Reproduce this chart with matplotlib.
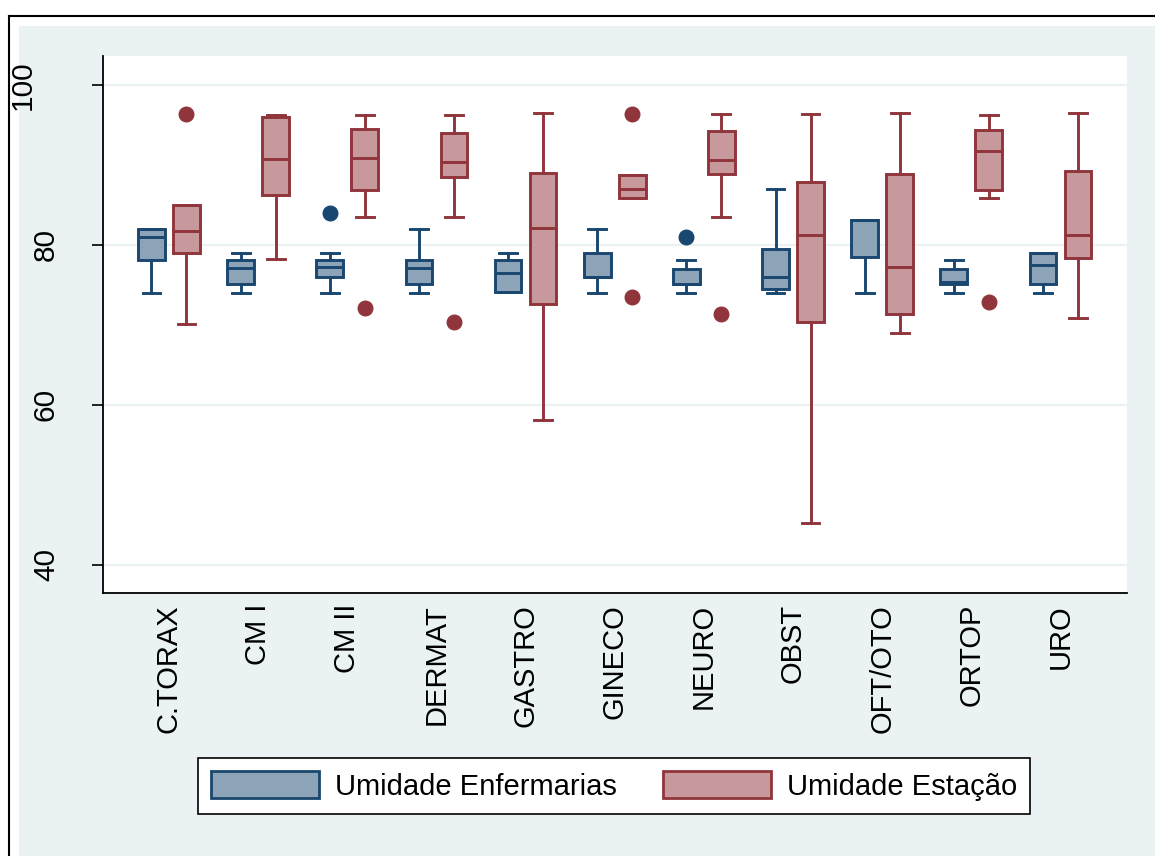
import matplotlib
matplotlib.use("Agg")
import matplotlib.pyplot as plt
from matplotlib.patches import Patch, Rectangle
from matplotlib.lines import Line2D
from matplotlib.transforms import ScaledTranslation

plt.rcParams['font.family'] = ['Liberation Sans', 'DejaVu Sans']

categories = ["C.TORAX", "CM I", "CM II", "DERMAT", "GASTRO", "GINECO",
              "NEURO", "OBST", "OFT/OTO", "ORTOP", "URO"]

# Umidade Enfermarias
enf_whislo = [74.0, 74.0, 74.0, 74.0, 74.1, 74.0, 74.0, 74.0, 74.0, 74.0, 74.0]
enf_q1     = [78.1, 75.1, 76.0, 75.1, 74.1, 76.0, 75.1, 74.5, 78.5, 75.1, 75.1]
enf_med    = [81.0, 77.1, 77.2, 77.1, 76.5, 76.0, 75.1, 76.0, 83.1, 75.4, 77.5]
enf_q3     = [82.0, 78.1, 78.1, 78.05, 78.1, 79.0, 77.0, 79.5, 83.1, 77.0, 79.0]
enf_whishi = [82.0, 79.0, 79.0, 82.0, 79.0, 82.0, 78.05, 87.0, 83.1, 78.05, 79.0]
enf_fliers = [[], [], [84.0], [], [], [], [81.0], [], [], [], []]

# Umidade Estação
est_whislo = [70.1, 78.25, 83.5, 83.5, 58.1, 85.8, 83.5, 45.2, 69.0, 85.8, 70.9]
est_q1     = [79.0, 86.25, 86.8, 88.5, 72.6, 85.8, 88.9, 70.4, 71.3, 86.9, 78.3]
est_med    = [81.75, 90.7, 90.9, 90.3, 82.1, 87.0, 90.6, 81.2, 77.2, 91.7, 81.2]
est_q3     = [85.0, 96.0, 94.5, 94.0, 89.0, 88.7, 94.2, 87.9, 88.8, 94.4, 89.2]
est_whishi = [85.0, 96.2, 96.2, 96.2, 96.5, 88.7, 96.3, 96.4, 96.5, 96.2, 96.5]
est_fliers = [[96.3], [], [72.1], [70.4], [], [96.4, 73.5], [71.3], [], [], [72.9], []]

series_names = ["Umidade Enfermarias", "Umidade Estação"]
yticks = [40, 60, 80, 100]

BG = "#EAF2F3"
NAVY = "#1A476F"
NAVY_FILL = "#8DA3B7"
MAROON = "#90353B"
MAROON_FILL = "#C8999C"

W, H = 1155, 856
fig = plt.figure(figsize=(W / 100, H / 100), dpi=100)
fig.patch.set_facecolor("white")

# light background region and outer frame lines
fig.add_artist(Rectangle((19 / W, 0), 1 - 19 / W, 1 - 26 / H,
                         transform=fig.transFigure, facecolor=BG,
                         edgecolor="none", zorder=-10))
fig.add_artist(Line2D([8.5 / W, 8.5 / W], [0, 1 - 16 / H], transform=fig.transFigure,
                      color="black", lw=1.5))
fig.add_artist(Line2D([8.5 / W, 1], [1 - 16 / H, 1 - 16 / H], transform=fig.transFigure,
                      color="black", lw=1.5))

ax = fig.add_axes([103 / W, 1 - 593 / H, (1127 - 103) / W, (593 - 56) / H])
ax.set_facecolor("white")


def make_stats(lo, q1, med, q3, hi, fl):
    return [dict(whislo=a, q1=b, med=c, q3=d, whishi=e, fliers=f)
            for a, b, c, d, e, f in zip(lo, q1, med, q3, hi, fl)]


n = len(categories)
base = list(range(1, n + 1))
off = 0.196
groups = [
    (make_stats(enf_whislo, enf_q1, enf_med, enf_q3, enf_whishi, enf_fliers),
     [p - off for p in base], NAVY, NAVY_FILL),
    (make_stats(est_whislo, est_q1, est_med, est_q3, est_whishi, est_fliers),
     [p + off for p in base], MAROON, MAROON_FILL),
]

for stats, pos, ec, fc in groups:
    ax.bxp(stats, positions=pos, widths=0.30, capwidths=0.20, patch_artist=True,
           showfliers=True, manage_ticks=False,
           boxprops=dict(facecolor=fc, edgecolor=ec, linewidth=2.1),
           medianprops=dict(color=ec, linewidth=2.1),
           whiskerprops=dict(color=ec, linewidth=2.1),
           capprops=dict(color=ec, linewidth=2.1),
           flierprops=dict(marker="o", markerfacecolor=ec, markeredgecolor=ec,
                           markersize=10.5, linestyle="none"))

ax.set_xlim(0.26, 11.746)
ax.set_ylim(36.5, 103.6)

ax.set_yticks(yticks)
ax.set_yticklabels([str(v) for v in yticks], rotation=90, va="center", fontsize=21.5)
ax.tick_params(axis="y", length=8, width=1.2, pad=23, color="black")
ax.set_xticks(base)
ax.set_xticklabels(categories, rotation=90, fontsize=21)
ax.tick_params(axis="x", length=0, pad=8)

ax.yaxis.grid(True, color=BG, linewidth=1.6)
ax.set_axisbelow(True)

for s in ["top", "right"]:
    ax.spines[s].set_visible(False)
ax.spines["left"].set_linewidth(1.3)
ax.spines["bottom"].set_linewidth(1.3)

# Stata placed the "100" label further left
for lab in ax.get_yticklabels():
    if lab.get_text() == "100":
        lab.set_transform(lab.get_transform() +
                          ScaledTranslation(-23 / 100, 0, fig.dpi_scale_trans))

handles = [Patch(facecolor=NAVY_FILL, edgecolor=NAVY, linewidth=2.0),
           Patch(facecolor=MAROON_FILL, edgecolor=MAROON, linewidth=2.0)]
leg = fig.legend(handles, series_names, loc="center", bbox_to_anchor=(614 / W, 1 - 786 / H),
                 ncol=2, fontsize=21, frameon=True, fancybox=False,
                 handlelength=3.7, handleheight=1.05, handletextpad=0.55,
                 columnspacing=1.6, borderpad=0.45, borderaxespad=0)
leg.get_frame().set_edgecolor("black")
leg.get_frame().set_linewidth(1.2)
leg.get_frame().set_facecolor("white")
leg.get_frame().set_alpha(1)

fig.savefig("out.png", dpi=100, facecolor=fig.get_facecolor())
